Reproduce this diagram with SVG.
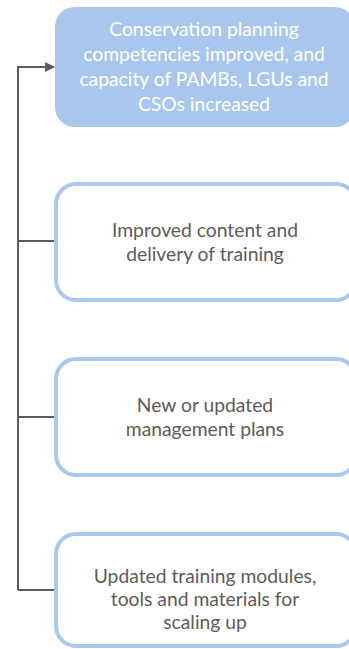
<svg xmlns="http://www.w3.org/2000/svg" width="349" height="649" viewBox="0 0 349 649">
<style>
.box{fill:#ffffff;stroke:#a9c8ec;stroke-width:4}
.top{fill:#a9c7ec}
.t{font-family:Lato,"Open Sans",sans-serif;font-size:19.3px;text-anchor:middle;fill:#605a58}
.w{fill:#ffffff}
.c{fill:none;stroke:#605a58;stroke-width:2}
</style>
<defs>
<marker id="ah" markerWidth="10" markerHeight="10" refX="9" refY="5" orient="auto" markerUnits="userSpaceOnUse">
<path d="M0,0 L10,5 L0,10 Z" fill="#605a58"/>
</marker>
</defs>
<rect width="349" height="649" fill="#ffffff"/>
<g id="connectors">
<path class="c" d="M18,590 V67 H54" marker-end="url(#ah)"/>
<path class="c" d="M18,241 H55"/>
<path class="c" d="M18,417 H55"/>
<path class="c" d="M18,590 H55"/>
</g>
<g id="n1">
<rect class="top" x="55" y="7" width="300" height="120" rx="20"/>
<text class="t w" x="204" y="36">Conservation planning</text>
<text class="t w" x="204" y="61">competencies improved, and</text>
<text class="t w" x="204" y="86">capacity of PAMBs, LGUs and</text>
<text class="t w" x="204" y="111">CSOs increased</text>
</g>
<g id="n2">
<rect class="box" x="56" y="184" width="300" height="116" rx="20"/>
<text class="t" x="205" y="237">Improved content and</text>
<text class="t" x="205" y="261">delivery of training</text>
</g>
<g id="n3">
<rect class="box" x="56" y="359" width="300" height="116" rx="20"/>
<text class="t" x="205" y="412">New or updated</text>
<text class="t" x="205" y="436">management plans</text>
</g>
<g id="n4">
<rect class="box" x="56" y="534" width="300" height="112" rx="20"/>
<text class="t" x="205" y="583">Updated training modules,</text>
<text class="t" x="205" y="606">tools and materials for</text>
<text class="t" x="205" y="629">scaling up</text>
</g>
</svg>
